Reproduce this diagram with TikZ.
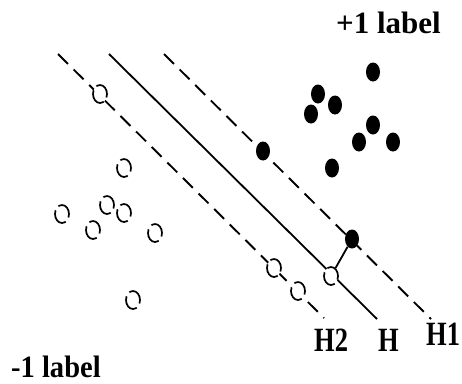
\documentclass[tikz,border=0pt]{standalone}
\usepackage{fontspec}
\setmainfont{Liberation Serif}
\usetikzlibrary{shapes.geometric}
\tikzset{
  plane/.style={line width=1.8pt},
  margin/.style={line width=1.9pt, dash pattern=on 14pt off 8pt},
  posdot/.style={ellipse, fill=black, minimum width=14pt, minimum height=19pt, inner sep=0pt},
  negring/.style={ellipse, draw, fill=white, line width=1.7pt, minimum width=14pt,
              minimum height=18pt, inner sep=0pt,
              dash pattern=on 20.2pt off 5pt, dash phase=3.8pt},
  lab/.style={font=\fontsize{31}{31}\selectfont\bfseries, inner sep=0pt, anchor=base west},
  hlab/.style={font=\fontsize{34}{34}\selectfont\bfseries, inner sep=0pt, anchor=base west, xscale=0.78}
}
\begin{document}
\begin{tikzpicture}[x=1pt,y=-1pt]
\path[use as bounding box] (0,0) rectangle (462,383);

% separating hyperplane and the two margin planes
\coordinate (h2a) at (58,54);   \coordinate (h2b) at (324,318);
\coordinate (ha)  at (109,54);  \coordinate (hb)  at (377,319);
\coordinate (h1a) at (164,54);  \coordinate (h1b) at (431,319);
\draw[margin] (h2a) -- (h2b);
\draw[plane]  (ha)  -- (hb);
\draw[margin] (h1a) -- (h1b);

% +1 class samples
\node[posdot] (p1)  at (373,72)  {};
\node[posdot] (p2)  at (318,94)  {};
\node[posdot] (p3)  at (335,105) {};
\node[posdot] (p4)  at (311,114) {};
\node[posdot] (p5)  at (373,125) {};
\node[posdot] (p6)  at (359,142) {};
\node[posdot] (p7)  at (393,142) {};
\node[posdot] (p8)  at (332,168) {};
\node[posdot] (p9)  at (263,151) {};
\node[posdot] (p10) at (352,239) {};

% -1 class samples
\node[negring] (n1)  at (100,94)  {};
\node[negring] (n2)  at (124,168) {};
\node[negring] (n3)  at (62,214)  {};
\node[negring] (n4)  at (107,205) {};
\node[negring] (n5)  at (124,213) {};
\node[negring] (n6)  at (93,230)  {};
\node[negring] (n7)  at (155,233) {};
\node[negring] (n8)  at (133,300) {};
\node[negring] (n9)  at (274,268) {};
\node[negring] (n10) at (298,291) {};
\node[negring] (n11) at (331,276) {};

% distance between a support vector and the hyperplane
\draw[line width=1.8pt] (p10) -- (n11);

% labels
\node[lab]  (plus)  at (336,33)  {+1 label};
\node[lab, xscale=0.92] (minus) at (11,377)  {-1 label};
\node[hlab] (lh2)   at (314,351) {H2};
\node[hlab] (lh)    at (378,351) {H};
\node[hlab] (lh1)   at (426,345) {H1};
\end{tikzpicture}
\end{document}
